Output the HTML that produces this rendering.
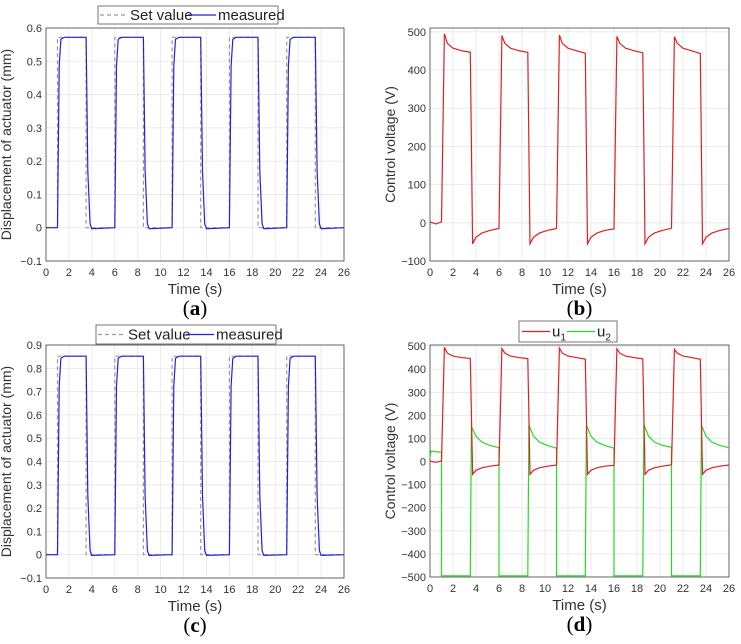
<!DOCTYPE html>
<html><head><meta charset="utf-8"><style>
body{margin:0;background:#fff;width:741px;height:644px;overflow:hidden}
svg{position:absolute;left:0;top:0}
</style></head><body>
<svg id="s" width="741" height="644" font-family="Liberation Sans, sans-serif"></svg>
<script>
const times=[0,2,4,6,8,10,12,14,16,18,20,22,24,26];
const onTimes=[1,6,11,16,21];
const offTimes=[3.5,8.5,13.5,18.5,23.5];
const ampA=[0.572,0.572,0.572,0.572,0.572];
const ampC=[0.852,0.852,0.852,0.852,0.852];
const u1Peak=[495,490,492,488,487];
const u1Plateau=[447,446,444,445,443];
const u1Dip=[-55,-55,-55,-55,-55];
const u1Rest=[-15,-15,-16,-14,-15];
const u2Low=[-495,-495,-495,-495,-495];
const u2Peak=[152,158,158,160,158];
const u2Rest=[60,58,58,62,60];
const ticksA=[-0.1,0,0.1,0.2,0.3,0.4,0.5,0.6];
const ticksC=[-0.1,0,0.1,0.2,0.3,0.4,0.5,0.6,0.7,0.8,0.9];
const ticksB=[-100,0,100,200,300,400,500];
const ticksD=[-500,-400,-300,-200,-100,0,100,200,300,400,500];
const NS='http://www.w3.org/2000/svg';
const svg=document.getElementById('s');
function el(t,a,p){const e=document.createElementNS(NS,t);for(const k in a)e.setAttribute(k,a[k]);(p||svg).appendChild(e);return e;}
function txt(x,y,s,a,p){const e=el('text',Object.assign({x:x,y:y},a),p);e.textContent=s;return e;}
function axes(name,x0,x1,y0,y1,ymin,ymax,yt,fmt,ylabel,lab){
  const g=el('g',{});
  
  
  const X=t=>x0+(t/26)*(x1-x0), Y=v=>y1-(v-ymin)/(ymax-ymin)*(y1-y0);
  times.forEach(t=>{el('line',{x1:X(t),x2:X(t),y1:y0,y2:y1,stroke:'#e6e6e6','stroke-width':0.8},g);
    const l=txt(X(t),y1+15,String(t),{'font-size':11,fill:'#333','text-anchor':'middle'},g);});
  yt.forEach(v=>{el('line',{x1:x0,x2:x1,y1:Y(v),y2:Y(v),stroke:'#e6e6e6','stroke-width':0.8},g);
    const l=txt(x0-4,Y(v)+4,fmt(v),{'font-size':11,fill:'#333','text-anchor':'end'},g);});
  el('rect',{x:x0,y:y0,width:x1-x0,height:y1-y0,fill:'none',stroke:'#444','stroke-width':0.8},g);
  const xt=txt((x0+x1)/2,y1+33,'Time (s)',{'font-size':15,fill:'#333','text-anchor':'middle'},g);
  
  const cy=(y0+y1)/2,cx=x0-35;
  const yl=txt(cx,cy,ylabel,{'font-size':14,fill:'#333','text-anchor':'middle',transform:`rotate(-90 ${cx} ${cy})`},g);
  
  const pl=txt((x0+x1)/2,y1+54,'',{'font-size':21,fill:'#000','text-anchor':'middle','font-family':'Liberation Serif, serif'},g);
  const o=el('tspan',{},pl);o.textContent='(';
  const m=el('tspan',{'font-weight':'bold'},pl);m.textContent=lab;
  const c2=el('tspan',{},pl);c2.textContent=')';
  
  return {g,X,Y};
}
function line(ax,pts,color,name,dash){
  const p=el('polyline',{points:pts.map(q=>ax.X(q[0]).toFixed(1)+','+ax.Y(q[1]).toFixed(1)).join(' '),fill:'none',stroke:color,'stroke-width':1.2},ax.g);
  if(dash)p.setAttribute('stroke-dasharray',dash);
  
  
}
function disp(ax,amp){
  const sp=[[0,0]],mp=[[0,0]];
  onTimes.forEach((s,i)=>{const e=offTimes[i];
    sp.push([s,0],[s,amp[i]],[e,amp[i]],[e,0]);
    mp.push([s,0],[s+0.15,amp[i]*0.85],[s+0.3,amp[i]*0.99],[s+0.6,amp[i]],[e,amp[i]],[e+0.15,amp[i]*0.3],[e+0.35,amp[i]*0.02],[e+0.5,-0.003],[e+2.5,0]);});
  sp.push([26,0]);mp.push([26,0]);
  line(ax,sp,'#999','set-value-line','4 3');
  line(ax,mp,'#2222dd','measured-line');
}
function u1(ax){
  const p=[[0,2],[0.5,-3],[1,2]];
  onTimes.forEach((s,i)=>{const e=offTimes[i],pk=u1Peak[i],pl=u1Plateau[i],d=u1Dip[i],r=u1Rest[i];
    p.push([s,i==0?2:r],[s+0.25,pk],[s+0.5,470],[s+1,457],[s+1.8,450],[e,pl],[e+0.2,d],[e+0.5,-38],[e+1,-27],[e+1.7,-20],[e+2.5,r]);});
  line(ax,p,'#e02020','u1-line');
}
function u2(ax){
  const p=[[0,20],[0.1,45],[1,40]];
  onTimes.forEach((s,i)=>{const e=offTimes[i];
    p.push([s,i==0?40:u2Rest[i-1]],[s,u2Low[i]],[e,u2Low[i]],[e+0.1,u2Peak[i]],[e+0.5,110],[e+1,85],[e+1.7,70],[e+2.5,u2Rest[i]]);});
  line(ax,p,'#22dd22','u2-line');
}
function legend(x,y,w,h,items){
  const g=el('g',{});
  
  
  el('rect',{x:x,y:y,width:w,height:h,fill:'#fff',stroke:'#555','stroke-width':0.8},g);
  items.forEach(it=>{
    const l=el('line',{x1:it[0],x2:it[0]+28,y1:y+h/2,y2:y+h/2,stroke:it[2],'stroke-width':1.2},g);
    if(it[3])l.setAttribute('stroke-dasharray','4 3');
    const t=el('text',{x:it[0]+30,y:y+h/2+5,'font-size':15,fill:'#222'},g);
    
    if(typeof it[1]==='string'){t.textContent=it[1];}
    else{const a=el('tspan',{},t);a.textContent=it[1].b;const s=el('tspan',{dy:4,'font-size':10},t);s.textContent=it[1].sub;}
  });
}
const fA=v=>v<0?'\u2212'+Math.abs(v).toFixed(1):(v==0?'0':v.toFixed(1));
const fB=v=>v<0?'\u2212'+Math.abs(v):String(v);
const a=axes('panel-a',46,344,28,261,-0.1,0.6,ticksA,fA,'Displacement of actuator (mm)','a');disp(a,ampA);
const b=axes('panel-b',430,729,28,261,-100,510,ticksB,fB,'Control voltage (V)','b');u1(b);
const c=axes('panel-c',46,344,345,578,-0.1,0.9,ticksC,fA,'Displacement of actuator (mm)','c');disp(c,ampC);
const d=axes('panel-d',430,729,345,577,-500,505,ticksD,fB,'Control voltage (V)','d');u2(d);u1(d);
legend(98,6,180,18,[[100,'Set value','#999',1],[188,'measured','#2222dd']]);
legend(96,325,180,19,[[98,'Set value','#999',1],[186,'measured','#2222dd']]);
legend(519,321,98,21,[[522,{b:'u',sub:'1'},'#e02020'],[567,{b:'u',sub:'2'},'#22dd22']]);
</script>
</body></html>
